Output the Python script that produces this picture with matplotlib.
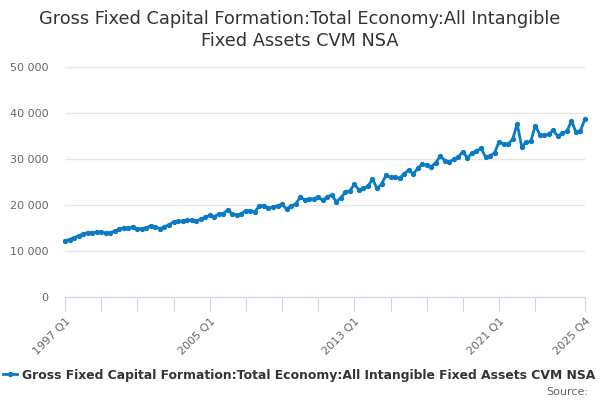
import numpy as np
import matplotlib
matplotlib.use('Agg')
import matplotlib.pyplot as plt
from matplotlib.ticker import FuncFormatter

# Quarterly values, 1997 Q1 to 2025 Q4
values = [
    12250, 12500, 12900, 13300, 13700, 14000, 14000, 14100,
    14100, 13900, 14000, 14300, 14700, 15100, 14900, 15300,
    14700, 14850, 15100, 15450, 15300, 14850, 15300, 15700,
    16300, 16500, 16500, 16700, 16650, 16500, 16950, 17300,
    17800, 17450, 18050, 18100, 19000, 18000, 17800, 18100,
    18800, 18700, 18550, 19850, 19850, 19300, 19500, 19850,
    20150, 19150, 19800, 20200, 21650, 21150, 21300, 21300,
    21800, 21000, 21800, 22170, 20700, 21600, 22750, 23100,
    24500, 23300, 23600, 24050, 25650, 23600, 24500, 26500,
    26000, 26150, 25800, 26750, 27600, 26750, 27950, 28900,
    28700, 28350, 29200, 30650, 29650, 29400, 29900, 30500,
    31600, 30200, 31300, 31650, 32350, 30450, 30700, 31300,
    33800, 33200, 33250, 34300, 37650, 32700, 33600, 33850,
    37250, 35300, 35150, 35450, 36200, 34950, 35650, 36000,
    38300, 35850, 36150, 38750,
]
quarters = [f"{y} Q{q}" for y in range(1997, 2026) for q in range(1, 5)]
shown_labels = ["1997 Q1", "2005 Q1", "2013 Q1", "2021 Q1", "2025 Q4"]
series_name = "Gross Fixed Capital Formation:Total Economy:All Intangible Fixed Assets CVM NSA"
title = "Gross Fixed Capital Formation:Total Economy:All Intangible\nFixed Assets CVM NSA"

blue = '#0a7bc4'
x = np.arange(len(values))

fig = plt.figure(figsize=(6, 4), dpi=100)
ax = fig.add_axes([65 / 600, 1 - 297 / 400, (585 - 65) / 600, (297 - 67) / 400])

line, = ax.plot(x, values, color=blue, lw=2, marker='o', ms=2.8, clip_on=False,
                label=series_name)

ax.set_xlim(0, len(values) - 1)
ax.set_ylim(0, 50000)
ax.set_yticks(range(0, 50001, 10000))
ax.yaxis.set_major_formatter(FuncFormatter(lambda v, p: f"{int(v):,}".replace(",", " ")))
ax.grid(axis='y', color='#e6e6e6', lw=1)
ax.set_axisbelow(True)

ticks = list(range(0, len(values) - 4, 8)) + [len(values) - 1]
ax.set_xticks(ticks)
ax.set_xticklabels([quarters[t] if quarters[t] in shown_labels else "" for t in ticks],
                   rotation=45, ha='right', rotation_mode='anchor')

for s in ['top', 'right', 'left']:
    ax.spines[s].set_visible(False)
ax.spines['bottom'].set_color('#ccd6eb')
ax.tick_params(axis='x', length=10, color='#ccd6eb', labelcolor='#666666', labelsize=8, pad=4)
ax.tick_params(axis='y', length=0, labelcolor='#666666', labelsize=8, pad=12)

fig.text(0.5, 1 - 30 / 400, title, ha='center', va='center', fontsize=12.8, color='#333333',
         linespacing=1.25)

leg = fig.legend(handles=[line], loc='center left', bbox_to_anchor=(3 / 600, 1 - 375 / 400),
                 frameon=False, handlelength=1.1, handletextpad=0.45, borderaxespad=0,
                 borderpad=0, prop={'weight': 'bold', 'size': 8.9})
for t in leg.get_texts():
    t.set_color('#333333')

fig.text(588 / 600, 1 - 392 / 400, "Source:", ha='right', va='center', fontsize=8, color='#666666')

fig.savefig('out.png', dpi=100)
